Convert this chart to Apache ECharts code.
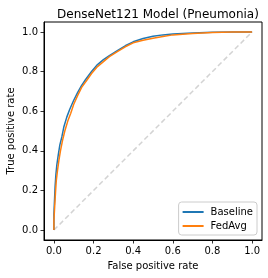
<!DOCTYPE html>
<html>
<head>
<meta charset="utf-8">
<script src="https://cdn.jsdelivr.net/npm/echarts@6/dist/echarts.min.js"></script>
<style>html,body{margin:0;padding:0;background:#fff}#c{width:268px;height:278px}</style>
</head>
<body>
<div id="c"></div>
<script>
var titleText = 'DenseNet121 Model (Pneumonia)';
var xName = 'False positive rate';
var yName = 'True positive rate';
var tickValues = [0, 0.2, 0.4, 0.6, 0.8, 1.0];
var seriesNames = ['Baseline', 'FedAvg'];
var baselineFpr = [0,0,0.003,0.006,0.01,0.015,0.022,0.03,0.04,0.05,0.065,0.08,0.1,0.12,0.14,0.16,0.19,0.22,0.25,0.28,0.32,0.36,0.40,0.45,0.50,0.55,0.60,0.70,0.80,0.90,1];
var baselineTpr = [0,0.08,0.15,0.22,0.28,0.33,0.38,0.43,0.47,0.52,0.57,0.61,0.655,0.695,0.73,0.76,0.80,0.835,0.86,0.88,0.905,0.93,0.95,0.967,0.978,0.985,0.99,0.995,0.998,0.999,1];
var fedFpr = [0,0,0.004,0.008,0.012,0.018,0.025,0.033,0.043,0.055,0.07,0.085,0.1,0.12,0.14,0.165,0.19,0.22,0.25,0.28,0.32,0.36,0.40,0.45,0.50,0.55,0.60,0.70,0.80,0.90,1];
var fedTpr = [0,0.05,0.12,0.19,0.25,0.30,0.35,0.40,0.45,0.50,0.55,0.59,0.635,0.68,0.72,0.755,0.79,0.825,0.85,0.875,0.90,0.925,0.945,0.958,0.968,0.977,0.985,0.992,0.997,0.999,1];
var chanceLine = [[0,0],[1,1]];

function zip(a,b){return a.map(function(v,i){return [v,b[i]];});}
var font = 'DejaVu Sans';
var chart = echarts.init(document.getElementById('c'), null, {renderer:'canvas'});
function axisCommon(name, gap){
  return {
    type:'value', min:-0.05, max:1.05, name:name, nameLocation:'middle', nameGap:gap, nameMoveOverlap:false,
    nameTextStyle:{fontFamily:font,fontSize:10,color:'#000'},
    axisLine:{show:true,onZero:false,lineStyle:{color:'#000',width:1}},
    axisTick:{show:true,inside:false,length:3.5,customValues:tickValues,lineStyle:{color:'#000',width:0.8}},
    axisLabel:{customValues:tickValues,fontFamily:font,fontSize:10,color:'#000',margin:6,
      formatter:function(v){return v.toFixed(1);}},
    splitLine:{show:false}
  };
}
chart.setOption({
  animation:false,
  title:{text:titleText,left:153,top:4,textAlign:'center',textStyle:{fontFamily:font,fontSize:12,fontWeight:'normal',color:'#000'}},
  grid:{left:44,top:22,right:6,bottom:38,show:true,borderColor:'#000',borderWidth:1,backgroundColor:'transparent',
    outerBoundsMode:'none',containLabel:false},
  xAxis:axisCommon(xName,21),
  yAxis:axisCommon(yName,28),
  legend:{
    data:seriesNames, orient:'vertical', right:11, bottom:43,
    icon:'rect', itemWidth:21, itemHeight:2, itemGap:4,
    padding:[5,4,4,4],
    textStyle:{fontFamily:font,fontSize:10,color:'#000',padding:[0,0,0,2]},
    borderColor:'#ccc', borderWidth:1, borderRadius:3, backgroundColor:'rgba(255,255,255,0.8)'
  },
  series:[
    {type:'line',name:'chance',data:chanceLine,symbol:'none',silent:true,lineStyle:{color:'#d3d3d3',width:1.5,type:[5,3]},z:1},
    {type:'line',name:seriesNames[0],data:zip(baselineFpr,baselineTpr),symbol:'none',color:'#1f77b4',lineStyle:{width:1.5},z:2},
    {type:'line',name:seriesNames[1],data:zip(fedFpr,fedTpr),symbol:'none',color:'#ff7f0e',lineStyle:{width:1.5},z:3}
  ]
});
</script>
</body>
</html>
